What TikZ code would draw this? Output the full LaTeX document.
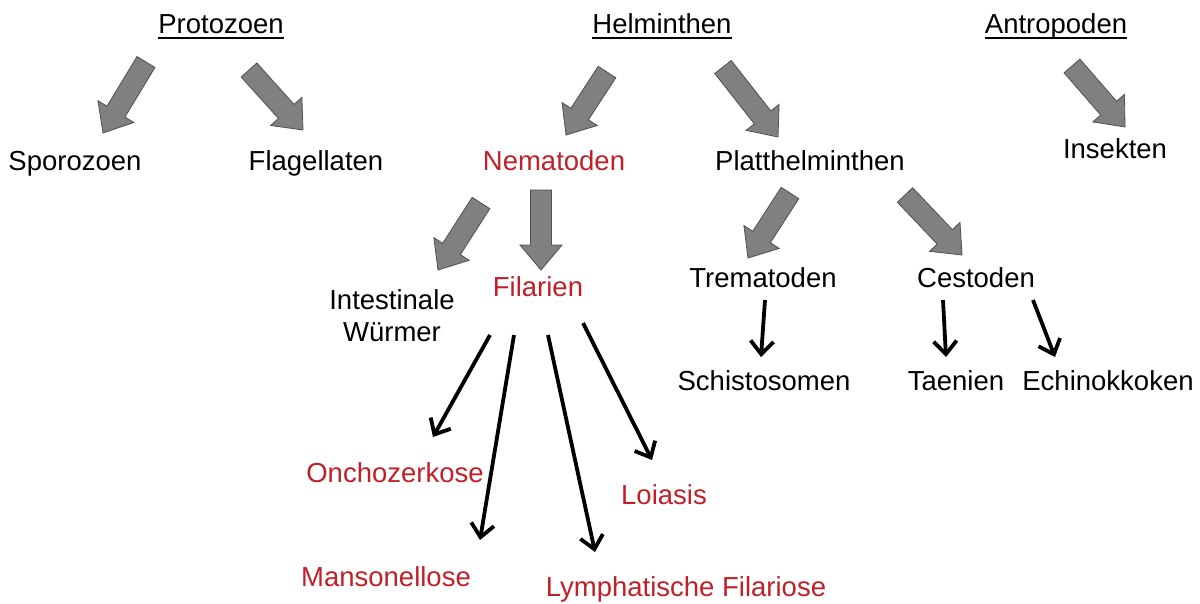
\documentclass[tikz,border=0pt]{standalone}
\usepackage{fontspec}
\setmainfont{Liberation Sans}
\usetikzlibrary{calc,arrows.meta}
\definecolor{redtxt}{RGB}{192,32,40}
\definecolor{arrfill}{RGB}{128,128,128}
\definecolor{arrline}{RGB}{80,80,80}
\tikzset{
  lbl/.style={inner sep=0pt, anchor=base, font=\fontsize{27.5}{32}\selectfont},
  redlbl/.style={lbl, text=redtxt},
  uline/.style={line width=2.5pt},
  blockarr/.style={fill=arrfill, draw=arrline, line width=0.8pt, line join=miter},
  blk/.style={line width=3.8pt, -{Straight Barb[length=13pt,width=23pt]}}
}
\newcommand{\blockarrow}[2]{%
  \coordinate (tmpH) at ($(#2)!25pt!(#1)$);
  \filldraw[blockarr] ($(#1)!10.5pt!90:(#2)$) -- ($(tmpH)!10.5pt!90:(#2)$) --
    ($(tmpH)!21pt!90:(#2)$) -- (#2) -- ($(tmpH)!21pt!-90:(#2)$) --
    ($(tmpH)!10.5pt!-90:(#2)$) -- ($(#1)!10.5pt!-90:(#2)$) -- cycle;
}
\begin{document}
\begin{tikzpicture}[x=1pt,y=-1pt]
\useasboundingbox[fill=white] (0,0) rectangle (1200,603);
% headers
\node[lbl] (proto) at (221,33) {Protozoen};
\node[lbl] (helm) at (662,33) {Helminthen};
\node[lbl] (antro) at (1056,33) {Antropoden};
\foreach \n in {proto,helm,antro}
  \draw[uline] ($(\n.base west)+(0,5)$) -- ($(\n.base east)+(0,5)$);
% second row
\node[lbl] (sporo) at (75,170) {Sporozoen};
\node[lbl] (flag) at (316,170) {Flagellaten};
\node[redlbl] (nema) at (554,170) {Nematoden};
\node[lbl] (platt) at (810,170) {Platthelminthen};
\node[lbl] (insek) at (1115,158) {Insekten};
% third row
\node[lbl, anchor=center, align=center] (intest) at (392,316) {Intestinale\\Würmer};
\node[redlbl] (fil) at (538,296) {Filarien};
\node[lbl] (trem) at (763,287) {Trematoden};
\node[lbl] (cest) at (976,287) {Cestoden};
% fourth row
\node[lbl] (schisto) at (764,390) {Schistosomen};
\node[lbl] (taen) at (956,390) {Taenien};
\node[lbl] (echi) at (1108,390) {Echinokkoken};
% diseases
\node[redlbl] (onch) at (395,482) {Onchozerkose};
\node[redlbl] (loia) at (664,504) {Loiasis};
\node[redlbl] (manso) at (386,586) {Mansonellose};
\node[redlbl] (lymph) at (686,596) {Lymphatische Filariose};
% arrow end points
\coordinate (g1a) at (146,62);  \coordinate (g1b) at (103,133);
\coordinate (g2a) at (249,70);  \coordinate (g2b) at (303,130);
\coordinate (g3a) at (607,72);  \coordinate (g3b) at (566,135);
\coordinate (g4a) at (723,67);  \coordinate (g4b) at (778,137);
\coordinate (g5a) at (1072,66); \coordinate (g5b) at (1125,127);
\coordinate (g6a) at (481,203); \coordinate (g6b) at (438,270);
\coordinate (g7a) at (541,190); \coordinate (g7b) at (541,270);
\coordinate (g8a) at (790,193); \coordinate (g8b) at (748,258);
\coordinate (g9a) at (905,195); \coordinate (g9b) at (962,255);
\blockarrow{g1a}{g1b}
\blockarrow{g2a}{g2b}
\blockarrow{g3a}{g3b}
\blockarrow{g4a}{g4b}
\blockarrow{g5a}{g5b}
\blockarrow{g6a}{g6b}
\blockarrow{g7a}{g7b}
\blockarrow{g8a}{g8b}
\blockarrow{g9a}{g9b}
% black arrows
\coordinate (b1a) at (765,300);  \coordinate (b1b) at (761,357);
\coordinate (b2a) at (943,300);  \coordinate (b2b) at (946,357);
\coordinate (b3a) at (1033,300); \coordinate (b3b) at (1055,357);
\coordinate (b4a) at (490,335);  \coordinate (b4b) at (433,437);
\coordinate (b5a) at (514,335);  \coordinate (b5b) at (480,540);
\coordinate (b6a) at (548,335);  \coordinate (b6b) at (595,552);
\coordinate (b7a) at (583,323);  \coordinate (b7b) at (652,460);
\foreach \i in {1,...,7}
  \draw[blk] (b\i a) -- (b\i b);
\end{tikzpicture}
\end{document}
